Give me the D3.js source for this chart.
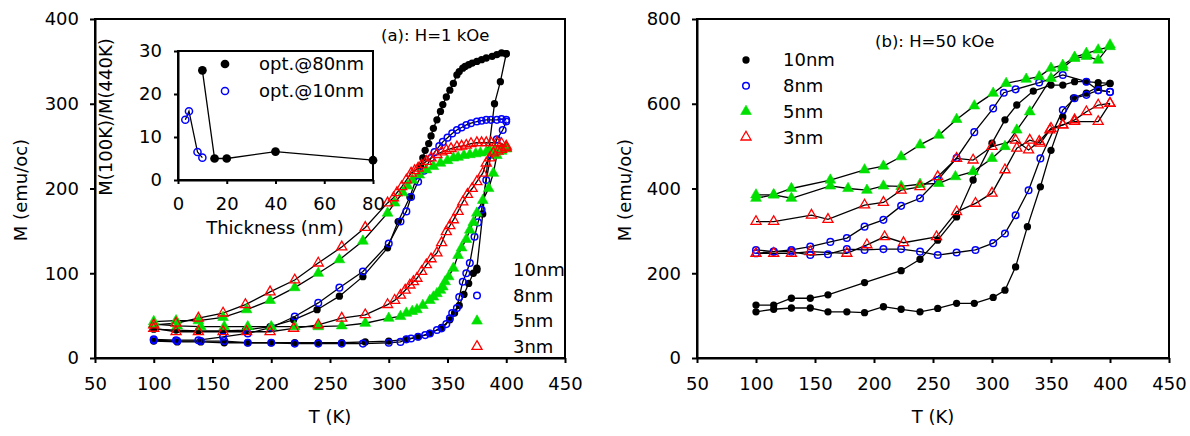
<!DOCTYPE html>
<html>
<head>
<meta charset="utf-8">
<script src="https://cdn.jsdelivr.net/npm/d3@7"></script>
<style>
  body { margin: 0; background: #fff; }
  text { font-family: "DejaVu Sans", sans-serif; fill: #000; }
</style>
</head>
<body>
<script>
// ---- tick values ----
const tempTicks = [50, 100, 150, 200, 250, 300, 350, 400, 450];
const magTicksA = [0, 100, 200, 300, 400];
const magTicksB = [0, 200, 400, 600, 800];
const thickTicks = [0, 20, 40, 60, 80];
const ratioTicks = [0, 10, 20, 30];
const seriesNames = ['10nm', '8nm', '5nm', '3nm'];

// ---- (a) H = 1 kOe : [T (K), M (emu/cc)] ----
const a10Heat = [[100,20],[120,19],[140,19],[160,18],[180,18],[200,18],[220,18],[240,18],[260,18],[280,19],[300,20],[315,22],[325,25],[335,29],[345,36],[352,45],[356,53],[360,62],[364,75],[368,88],[372,100],[375,106],[380,170],[385,245],[390,300],[395,326],[400,359]];
const a10Cool = [[400,359],[396,360],[392,358],[388,356],[383,354],[379,352],[375,350],[371,348],[368,346],[365,344],[363,342],[360,338],[358,334],[355,324],[352,316],[349,308],[346,299],[344,291],[341,281],[338,271],[336,262],[334,253],[331,245],[329,236],[327,226],[318,190],[308,161],[299,130],[278,96],[258,73],[239,57],[219,45],[199,37],[178,33],[159,32],[138,32],[119,33],[100,34]];
const a8Heat = [[100,21],[120,20],[140,20],[160,20],[180,18],[200,18],[220,17],[240,17],[260,17],[278,17],[300,18],[310,19],[315,22],[319,23],[325,25],[331,27],[335,29],[341,33],[345,35],[349,40],[352,47],[354,53],[358,59],[360,72],[363,90],[366,100],[369,112],[373,143],[376,160],[379,175],[383,210],[387,240],[392,258],[397,269],[400,279]];
const a8Cool = [[400,281],[396,282],[392,281],[387,281],[383,281],[379,280],[375,279],[370,277],[366,275],[362,272],[358,269],[354,265],[350,260],[346,255],[343,250],[339,243],[336,236],[330,221],[325,208],[319,190],[315,173],[310,161],[300,135],[278,102],[258,83],[240,65],[220,49],[200,36],[180,29],[159,25],[138,21],[119,21],[100,22]];
const a5Heat = [[100,40],[120,38],[140,37],[160,37],[180,37],[200,37],[220,37],[240,37],[260,38],[280,41],[300,47],[310,49],[315,53],[320,55],[324,57],[329,62],[335,68],[338,72],[341,76],[344,80],[346,84],[348,90],[351,96],[355,106],[359,121],[362,130],[366,140],[369,151],[372,160],[375,171],[380,186],[385,200],[389,218],[392,239],[396,244],[400,247]];
const a5Cool = [[400,247],[395,246],[390,245],[386,244],[383,243],[378,242],[374,241],[369,240],[364,239],[359,237],[355,236],[350,233],[344,230],[338,226],[332,222],[326,216],[320,210],[316,203],[312,195],[305,183],[299,171],[278,138],[258,116],[240,100],[220,83],[199,68],[179,57],[159,48],[138,44],[119,44],[100,43]];
const a3Heat = [[100,35],[119,31],[138,31],[159,31],[179,31],[199,31],[219,35],[240,39],[260,47],[280,51],[299,63],[305,68],[310,74],[314,80],[318,86],[321,90],[324,94],[328,102],[332,110],[336,117],[341,124],[345,136],[349,149],[352,156],[355,163],[359,173],[363,184],[367,193],[371,200],[375,208],[380,218],[383,230],[386,236],[389,242],[393,244],[396,246],[400,248]];
const a3Cool = [[400,250],[396,253],[392,254],[387,254],[383,254],[379,254],[375,254],[370,253],[366,251],[362,250],[358,249],[353,247],[349,245],[345,243],[341,240],[336,236],[332,232],[328,228],[325,224],[322,221],[319,218],[315,210],[311,202],[307,195],[304,189],[299,183],[280,154],[260,131],[240,112],[220,92],[199,78],[178,63],[159,53],[138,47],[119,41],[100,39]];

// ---- inset: [thickness (nm), M(100K)/M(440K)] ----
const opt80 = [[10,25.5],[15,5],[20,5],[40,6.6],[80,4.6]];
const opt10 = [[3,14],[4.5,16],[8,6.5],[10,5.2]];

// ---- (b) H = 50 kOe : [T (K), M (emu/cc)] ----
const b10A = [[100,125],[115,125],[130,141],[146,141],[161,149],[192,178],[223,206],[239,233],[254,278],[270,333],[284,420],[300,507],[311,562],[321,597],[335,630],[350,644],[360,644],[370,652],[380,652],[390,650],[400,648]];
const b10B = [[100,109],[115,115],[130,118],[146,118],[161,109],[177,109],[192,107],[208,121],[223,115],[239,109],[254,117],[270,129],[285,129],[301,143],[311,160],[320,215],[330,310],[341,404],[350,490],[360,569],[369,614],[380,625],[390,640],[400,648]];
const b8A = [[100,255],[115,251],[130,255],[146,263],[163,274],[177,283],[192,310],[208,326],[223,359],[239,377],[254,420],[270,472],[285,533],[301,589],[310,626],[320,634],[340,650],[360,668],[380,652],[390,632],[400,628]];
const b8B = [[100,247],[115,251],[130,251],[146,243],[161,245],[177,257],[192,255],[208,257],[223,257],[239,251],[254,243],[270,249],[286,255],[301,271],[311,294],[320,337],[331,396],[341,471],[360,585],[370,613],[380,621],[390,632],[400,628]];
const b5A = [[100,385],[115,385],[130,400],[163,420],[192,444],[208,453],[223,475],[239,503],[255,526],[270,563],[285,595],[301,625],[312,648],[329,658],[340,664],[350,684],[360,691],[370,710],[380,719],[390,727],[400,735]];
const b5B = [[100,377],[115,385],[130,377],[163,406],[178,400],[194,396],[208,406],[223,405],[239,410],[255,412],[269,428],[284,440],[300,471],[311,499],[321,538],[332,581],[350,660],[360,685],[370,707],[380,712],[390,703],[400,739]];
const b3A = [[100,322],[115,322],[147,337],[161,327],[192,361],[208,367],[223,396],[239,404],[254,428],[270,471],[284,467],[300,499],[320,514],[331,491],[340,511],[350,542],[360,550],[370,558],[390,558],[400,601]];
const b3B = [[100,247],[115,247],[130,247],[146,251],[177,247],[194,267],[209,286],[225,272],[253,286],[270,345],[286,365],[300,389],[311,444],[321,495],[332,514],[341,507],[349,538],[360,550],[370,562],[380,581],[390,597],[400,601]];

// marker styles per thickness
const markStyle = {
  '10nm': {type: d3.symbolCircle, size: 42, fill: '#000', stroke: 'none', sw: 0},
  '8nm':  {type: d3.symbolCircle, size: 34, fill: 'none', stroke: '#0000ff', sw: 1.5},
  '5nm':  {type: d3.symbolTriangle, size: 50, fill: '#00e000', stroke: '#00e000', sw: 0.6},
  '3nm':  {type: d3.symbolTriangle, size: 44, fill: 'none', stroke: '#ff0000', sw: 1.3}
};

const ident = v => v;

const svg = d3.select('body').append('svg')
  .attr('width', 1190).attr('height', 436);

function styleAxis(g) {
  g.selectAll('path.domain').attr('stroke', '#000').attr('stroke-width', 2);
  g.selectAll('.tick line').attr('stroke', '#000').attr('stroke-width', 2);
  g.selectAll('.tick text').attr('font-size', 18).attr('fill', '#000')
    .attr('font-family', '"DejaVu Sans", sans-serif');
}

function marks(g, x, y, pts, st) {
  g.append('g').selectAll('path').data(pts).enter().append('path')
    .attr('transform', d => `translate(${x(d[0])},${y(d[1])})`)
    .attr('d', d3.symbol(st.type, st.size)())
    .attr('fill', st.fill).attr('stroke', st.stroke).attr('stroke-width', st.sw);
}

function panel(p) {
  const x = d3.scaleLinear().domain([50, 450]).range([p.left, p.right]);
  const y = d3.scaleLinear().domain(p.yDom).range([p.bottom, p.top]);
  const g = svg.append('g');

  // frame
  g.append('rect').attr('x', p.left).attr('y', p.top)
    .attr('width', p.right - p.left).attr('height', p.bottom - p.top)
    .attr('fill', 'none').attr('stroke', '#000').attr('stroke-width', 2);

  g.append('g').attr('transform', `translate(0,${p.bottom})`)
    .call(d3.axisBottom(x).tickValues(tempTicks).tickSize(5).tickSizeOuter(0).tickPadding(14))
    .call(styleAxis);
  g.append('g').attr('transform', `translate(${p.left},0)`)
    .call(d3.axisLeft(y).tickValues(p.yTicks).tickSize(5).tickSizeOuter(0).tickPadding(11))
    .call(styleAxis);

  // curves
  const line = d3.line().x(d => x(d[0])).y(d => y(d[1]));
  p.series.forEach(s => s.branches.forEach(b => {
    g.append('path').datum(b).attr('d', line)
      .attr('fill', 'none').attr('stroke', '#000').attr('stroke-width', 1.3);
  }));
  p.series.forEach(s => s.branches.forEach(b => marks(g, x, y, b, markStyle[s.name])));

  // legend
  seriesNames.forEach((n, i) => {
    const ly = p.legY + i * p.legStep;
    marks(g, ident, ident, [[p.legMark, ly]], markStyle[n]);
    g.append('text').attr('x', p.legText).attr('y', ly).attr('dy', '0.36em')
      .attr('font-size', 18).text(n);
  });

  g.append('text').attr('x', p.titleX).attr('y', p.titleY).attr('dy', '0.36em')
    .attr('font-size', 16.5).text(p.title);

  g.append('text').attr('x', (p.left + p.right) / 2).attr('y', 417).attr('dy', '0.36em')
    .attr('text-anchor', 'middle').attr('font-size', 18).text('T (K)');
  g.append('text')
    .attr('transform', `translate(${p.yLabX},190) rotate(-90)`)
    .attr('dy', '0.36em').attr('text-anchor', 'middle').attr('font-size', 18)
    .text('M (emu/oc)');
  return g;
}

const gA = panel({
  left: 95, right: 565, top: 19, bottom: 358, yDom: [0, 400], yTicks: magTicksA,
  series: [
    {name: '10nm', branches: [a10Heat, a10Cool]},
    {name: '8nm', branches: [a8Heat, a8Cool]},
    {name: '5nm', branches: [a5Heat, a5Cool]},
    {name: '3nm', branches: [a3Heat, a3Cool]}
  ],
  legMark: 477, legText: 513, legY: 270, legStep: 25.5,
  title: '(a): H=1 kOe', titleX: 381, titleY: 35, yLabX: 21
});

const gB = panel({
  left: 697, right: 1169, top: 19, bottom: 358, yDom: [0, 800], yTicks: magTicksB,
  series: [
    {name: '10nm', branches: [b10A, b10B]},
    {name: '8nm', branches: [b8A, b8B]},
    {name: '5nm', branches: [b5A, b5B]},
    {name: '3nm', branches: [b3A, b3B]}
  ],
  legMark: 746, legText: 783, legY: 60, legStep: 25.7,
  title: '(b): H=50 kOe', titleX: 875, titleY: 41, yLabX: 625
});

// ---- inset in (a) ----
const ix = d3.scaleLinear().domain([0, 80]).range([178, 373]);
const iy = d3.scaleLinear().domain([0, 30]).range([180, 51]);
const gi = svg.append('g');
gi.append('rect').attr('x', 178).attr('y', 51).attr('width', 195).attr('height', 129)
  .attr('fill', '#fff').attr('stroke', '#000').attr('stroke-width', 2);
gi.append('g').attr('transform', 'translate(0,180)')
  .call(d3.axisBottom(ix).tickValues(thickTicks).tickSize(4).tickSizeOuter(0).tickPadding(13))
  .call(styleAxis);
gi.append('g').attr('transform', 'translate(178,0)')
  .call(d3.axisLeft(iy).tickValues(ratioTicks).tickSize(4).tickSizeOuter(0).tickPadding(12))
  .call(styleAxis);
const iline = d3.line().x(d => ix(d[0])).y(d => iy(d[1]));
[opt80, opt10].forEach(b => gi.append('path').datum(b).attr('d', iline)
  .attr('fill', 'none').attr('stroke', '#000').attr('stroke-width', 1.3));
const dot80 = {type: d3.symbolCircle, size: 60, fill: '#000', stroke: 'none', sw: 0};
const ring10 = {type: d3.symbolCircle, size: 40, fill: 'none', stroke: '#0000ff', sw: 1.5};
marks(gi, ix, iy, opt80, dot80);
marks(gi, ix, iy, opt10, ring10);
marks(gi, ident, ident, [[225, 64]], dot80);
marks(gi, ident, ident, [[225, 91]], ring10);
gi.append('text').attr('x', 259).attr('y', 64).attr('dy', '0.36em').attr('font-size', 18).text('opt.@80nm');
gi.append('text').attr('x', 259).attr('y', 91).attr('dy', '0.36em').attr('font-size', 18).text('opt.@10nm');
gi.append('text').attr('x', 275).attr('y', 228).attr('dy', '0.36em')
  .attr('text-anchor', 'middle').attr('font-size', 18).text('Thickness (nm)');
gi.append('text').attr('transform', 'translate(106,117) rotate(-90)')
  .attr('dy', '0.36em').attr('text-anchor', 'middle').attr('font-size', 18)
  .text('M(100K)/M(440K)');
</script>
</body>
</html>
